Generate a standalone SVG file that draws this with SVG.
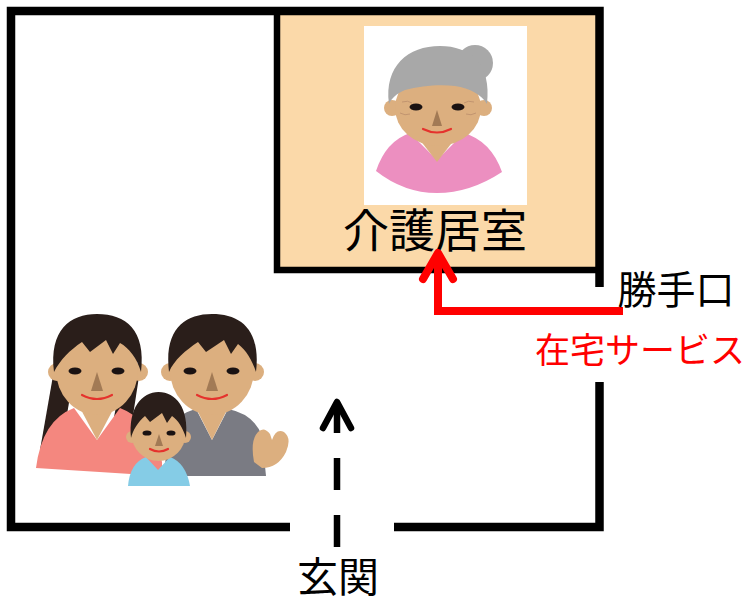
<svg xmlns="http://www.w3.org/2000/svg" width="747" height="605" viewBox="0 0 747 605">
  <style>
    .wall { fill: none; stroke: #000; stroke-width: 8.5; stroke-linejoin: miter; stroke-linecap: butt; }
    .inner { fill: none; stroke: #000; stroke-width: 6.5; stroke-linejoin: miter; stroke-linecap: butt; }
    .label { font-family: "Noto Sans CJK JP", "Noto Sans", sans-serif; fill: #000; }
    .red { fill: #FF0000; }
    .skin { fill: #DCAF7F; }
    .hair { fill: #2A1E1A; }
    .eye { fill: #1A1212; }
    .nose { fill: #A27A55; }
    .smile { fill: none; stroke: #E5322D; stroke-width: 2.2; stroke-linecap: round; }
    .dash { fill: none; stroke: #000; stroke-width: 6.5; stroke-linecap: butt; }
    .route { fill: none; stroke: #FF0000; stroke-width: 8; stroke-linejoin: miter; }
  </style>

  <rect width="747" height="605" fill="#FFFFFF"/>

  <!-- care room floor -->
  <g id="care-room">
    <rect x="277" y="11" width="322" height="259" fill="#FBD9A9"/>
    <rect x="364" y="26" width="163" height="179" fill="#FFFFFF"/>
    <!-- elderly resident -->
    <g id="grandma">
      <circle cx="475" cy="63" r="18" fill="#A8A8A8"/>
      <path d="M376 171 Q386 141 410 133 L437 160 L464 133 Q491 141 502 172 Q470 193 437 193 Q404 193 376 171 Z" fill="#EC8FC0"/>
      <path d="M413 131 L461 131 L437 162 Z" class="skin"/>
      <circle cx="392" cy="108" r="8" class="skin"/>
      <circle cx="484" cy="108" r="8" class="skin"/>
      <ellipse cx="438" cy="108" rx="43" ry="38" class="skin"/>
      <path d="M389 104 C384 66 408 46 440 46 C470 46 492 64 487 104 C482 95 470 88 455 86 C440 84 420 86 405 90 C396 94 392 98 389 104 Z" fill="#A8A8A8"/>
      <ellipse cx="416" cy="107" rx="6.5" ry="3.5" class="eye"/>
      <ellipse cx="458" cy="107" rx="6.5" ry="3.5" class="eye"/>
      <path d="M402 102 Q408 100 412 103 M464 103 Q468 100 474 102 M400 113 Q405 116 410 114 M466 114 Q471 116 476 113" fill="none" stroke="#C29570" stroke-width="1"/>
      <path d="M437 110 L432 126 L442 126 Z" class="nose"/>
      <path d="M423 129 Q437 136 451 129" class="smile"/>
    </g>
    <text class="label" x="435" y="247" font-size="46" text-anchor="middle">介護居室</text>
  </g>

  <!-- walls -->
  <g id="walls">
    <polyline class="wall" points="290,527 11,527 11,11 599.5,11 599.5,287"/>
    <polyline class="wall" points="394,527 599.5,527 599.5,382"/>
    <polyline class="inner" points="277,11 277,270 599,270"/>
  </g>

  <!-- family in the living area -->
  <g id="family">
    <!-- mother -->
    <path d="M54 370 L40 450 L64 432 L72 385 Z" class="hair"/>
    <path d="M140 370 L128 448 L112 428 L120 385 Z" class="hair"/>
    <path d="M36 468 Q42 420 74 408 L97 440 L120 408 Q152 420 162 462 L162 476 Q100 472 36 468 Z" fill="#F4877F"/>
    <path d="M78 404 L116 404 L97 440 Z" class="skin"/>
    <circle cx="57" cy="372" r="9" class="skin"/>
    <circle cx="139" cy="372" r="9" class="skin"/>
    <ellipse cx="97" cy="370" rx="41" ry="45" class="skin"/>
    <path d="M54 372 C49 330 70 314 97 314 C126 314 146 330 141 372 C137 358 129 348 120 343 L113 354 L106 340 L90 352 L82 342 C70 350 60 360 54 372 Z" class="hair"/>
    <ellipse cx="75" cy="371" rx="6.5" ry="3.5" class="eye"/>
    <ellipse cx="118" cy="371" rx="6.5" ry="3.5" class="eye"/>
    <path d="M97 372 L91 391 L103 391 Z" class="nose"/>
    <path d="M82 395 Q97 403 112 395" class="smile"/>

    <!-- father -->
    <path d="M164 476 L168 432 Q176 414 196 409 L212 440 L228 409 Q254 414 262 436 L266 476 Z" fill="#7A7B83"/>
    <path d="M194 404 L230 404 L212 440 Z" class="skin"/>
    <path d="M254 462 Q250 440 258 432 Q264 426 270 434 L272 440 Q276 428 284 432 Q292 438 286 452 Q278 468 262 468 Z" class="skin"/>
    <circle cx="170" cy="372" r="9" class="skin"/>
    <circle cx="255" cy="372" r="9" class="skin"/>
    <ellipse cx="212" cy="370" rx="42" ry="45" class="skin"/>
    <path d="M169 372 C164 330 184 314 212 314 C241 314 261 330 256 372 C252 360 246 350 238 344 L231 354 L224 340 L206 352 L198 342 C186 350 174 360 169 372 Z" class="hair"/>
    <ellipse cx="190" cy="371" rx="6.5" ry="3.5" class="eye"/>
    <ellipse cx="233" cy="371" rx="6.5" ry="3.5" class="eye"/>
    <path d="M212 372 L206 391 L218 391 Z" class="nose"/>
    <path d="M197 395 Q212 403 227 395" class="smile"/>

    <!-- child -->
    <path d="M128 486 Q130 463 146 457 L158 470 L170 457 Q186 463 190 486 Z" fill="#85CCE6"/>
    <circle cx="132" cy="437" r="6" class="skin"/>
    <circle cx="185" cy="437" r="6" class="skin"/>
    <ellipse cx="158.5" cy="434" rx="27" ry="27" class="skin"/>
    <path d="M131 438 C128 408 142 392 158.5 392 C176 392 189 408 186 438 C183 428 178 420 172 416 L167 423 L162 413 L150 422 L145 416 C138 422 133 430 131 438 Z" class="hair"/>
    <ellipse cx="147" cy="433" rx="4.5" ry="2.6" class="eye"/>
    <ellipse cx="171" cy="433" rx="4.5" ry="2.6" class="eye"/>
    <path d="M159 434 L155 446 L163 446 Z" class="nose"/>
    <path d="M150 449 Q159 454 168 449" class="smile"/>
  </g>

  <!-- routes into the house -->
  <g id="connectors">
    <path class="dash" d="M337 547 V515 M337 490 V458 M337 433 V403"/>
    <polyline points="323,428 337,402 351,428" fill="none" stroke="#000" stroke-width="6.5" stroke-linecap="round" stroke-linejoin="round"/>
    <path class="route" d="M623 311 H438 V258"/>
    <polyline points="423,279 438,253 453,279" fill="none" stroke="#FF0000" stroke-width="8" stroke-linecap="round" stroke-linejoin="round"/>
  </g>

  <g id="labels">
    <text class="label" x="676" y="304" font-size="39" text-anchor="middle">勝手口</text>
    <text class="label red" x="640" y="363" font-size="35" text-anchor="middle">在宅サービス</text>
    <text class="label" x="338" y="592" font-size="41" text-anchor="middle">玄関</text>
  </g>
</svg>
